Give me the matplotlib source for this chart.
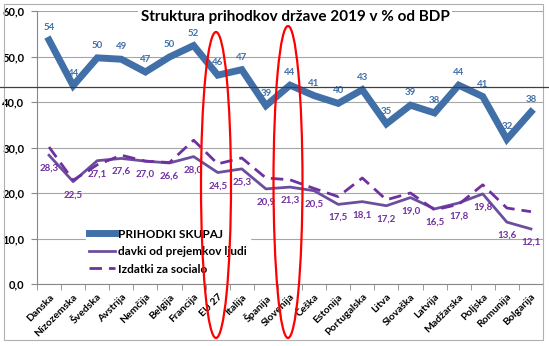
import matplotlib
matplotlib.use("Agg")
import matplotlib.pyplot as plt
from matplotlib.patches import Ellipse, Rectangle
from matplotlib.lines import Line2D
import numpy as np

plt.rcParams['font.family'] = ['Lato', 'DejaVu Sans']

countries = ['Danska', 'Nizozemska', 'Švedska', 'Avstrija', 'Nemčija', 'Belgija',
             'Francija', 'EU 27', 'Italija', 'Španija', 'Slovenija', 'Češka',
             'Estonija', 'Portugalska', 'Litva', 'Slovaška', 'Latvija', 'Madžarska',
             'Poljska', 'Romunija', 'Bolgarija']
prihodki = [53.6, 43.6, 49.7, 49.4, 46.6, 49.9, 52.4, 45.9, 47.1, 39.2, 43.7,
            41.4, 39.7, 42.7, 35.2, 39.3, 37.6, 43.7, 41.2, 31.8, 37.8]
davki = [28.3, 22.5, 27.1, 27.6, 27.0, 26.6, 28.0, 24.5, 25.3, 20.9, 21.3,
         20.5, 17.5, 18.1, 17.2, 19.0, 16.5, 17.8, 19.8, 13.6, 12.1]
socialo = [30.1, 22.8, 26.2, 28.3, 27.0, 26.7, 31.6, 26.4, 27.7, 23.3, 22.9,
           21.0, 19.2, 23.3, 18.5, 20.0, 16.3, 17.5, 21.8, 16.7, 15.9]
ref_line = 43.3

W, H = 549, 346
fig = plt.figure(figsize=(W / 100, H / 100), dpi=100)


def fx(px):
    return px / W


def fy(py):
    return (H - py) / H


# chart area border
fig.add_artist(Rectangle((fx(4), fy(340)), fx(539), 336 / H, fill=False,
                         edgecolor='#b0b0b0', linewidth=0.8, transform=fig.transFigure))

ax = fig.add_axes([fx(37), fy(284), fx(506), 273 / H])
x = np.arange(len(countries))

blue = '#4170a8'
purple_solid = '#6b4f9e'
purple = '#7030a0'

ax.plot(x, prihodki, color=blue, linewidth=5, solid_joinstyle='miter',
        label='PRIHODKI SKUPAJ', zorder=4)
ax.plot(x, davki, color=purple_solid, linewidth=2.0, label='davki od prejemkov ljudi', zorder=3)
ax.plot(x, socialo, color=purple, linewidth=2.0, dashes=(4.5, 2.5),
        label='Izdatki za socialo', zorder=3)

for i, v in enumerate(prihodki):
    ax.annotate(f'{round(v)}', (i, v), xytext=(0, 9), textcoords='offset points',
                ha='center', va='center', fontsize=7, fontweight='bold', color=blue, zorder=5)
for i, v in enumerate(davki):
    ax.annotate(f'{v:.1f}'.replace('.', ','), (i, v), xytext=(0, -9.5),
                textcoords='offset points', ha='center', va='center', fontsize=7,
                fontweight='bold', color=purple, zorder=5)

ax.set_xlim(-0.5, len(countries) - 0.5)
ax.set_ylim(0, 60)
ax.set_yticks(np.arange(0, 61, 10))
ax.set_yticklabels([f'{t:.1f}'.replace('.', ',') for t in np.arange(0, 61, 10)],
                   fontsize=8, fontweight='bold')
ax.grid(axis='y', color='#a6a6a6', linewidth=0.8)
ax.set_axisbelow(True)

ax.set_xticks(x)
ax.set_xticklabels(countries, rotation=45, ha='right', va='top', rotation_mode='anchor',
                   fontsize=7.5, fontweight='bold')
ax.set_xticks(np.arange(-0.5, len(countries), 1), minor=True)
ax.tick_params(axis='x', which='major', length=0, pad=6)
ax.tick_params(axis='x', which='minor', length=4, color='#888888')
ax.tick_params(axis='y', length=4, color='#888888', pad=5)
for s in ['top', 'right']:
    ax.spines[s].set_visible(False)
for s in ['left', 'bottom']:
    ax.spines[s].set_color('#888888')
    ax.spines[s].set_linewidth(0.8)

leg = ax.legend(loc='lower left', bbox_to_anchor=(0.085, 0.0),
                frameon=True, fontsize=8.5, handlelength=2.2, labelspacing=0.55,
                borderpad=0.3, handletextpad=0.2)
leg.get_frame().set_edgecolor('white')
leg.get_frame().set_facecolor('white')
leg.get_frame().set_alpha(1)
for t in leg.get_texts():
    t.set_fontweight('bold')

fig.text(fx(295), fy(17), 'Struktura prihodkov države 2019 v % od BDP', fontsize=11,
         fontweight='bold', ha='center', va='center', zorder=6,
         bbox=dict(facecolor='white', edgecolor='none', pad=2))

# dark horizontal reference line across the whole picture
yref = ax.transData.transform((0, ref_line))[1] / H
fig.add_artist(Line2D([0, 1], [yref, yref], color='#404040', linewidth=0.9,
                      transform=fig.transFigure))

# red highlight ellipses
for cx, cy, w, h in [(216, 185, 30, 306), (288, 182, 29, 312)]:
    fig.add_artist(Ellipse((fx(cx), fy(cy)), fx(w), h / H, fill=False,
                           edgecolor='red', linewidth=1.6, transform=fig.transFigure,
                           zorder=10))

fig.savefig('out.png', dpi=100)
